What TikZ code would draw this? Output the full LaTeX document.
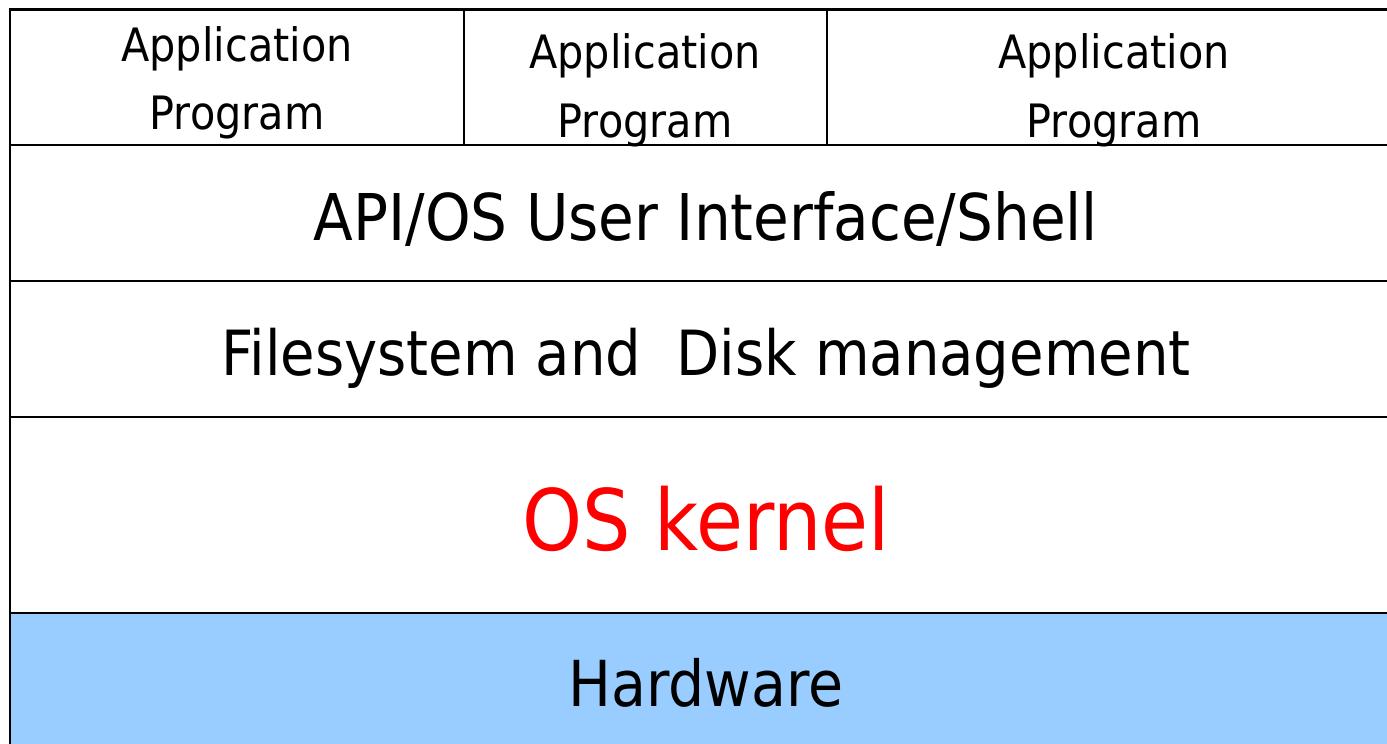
\documentclass[tikz,border=0pt]{standalone}
\usepackage{fontspec}
\setmainfont[FakeStretch=0.9]{DejaVu Sans}
\definecolor{hwblue}{HTML}{99CCFF}
\definecolor{kred}{HTML}{FF0000}
\begin{document}
\begin{tikzpicture}[x=1pt,y=-1pt,
  layer/.style={line width=2.4pt,draw=black},
  lbl/.style={anchor=base,inner sep=0pt,text=black}]
\useasboundingbox (0,0) rectangle (1387,744);
% hardware fill
\fill[hwblue] (10,613) rectangle (1387,744);
% texts
\node[lbl,font=\fontsize{46}{46}\selectfont] (a1) at (237,61) {Application};
\node[lbl,font=\fontsize{46}{46}\selectfont] (p1) at (237,129) {Program};
\node[lbl,font=\fontsize{46}{46}\selectfont] (a2) at (645,68) {Application};
\node[lbl,font=\fontsize{46}{46}\selectfont] (p2) at (645,137) {Program};
\node[lbl,font=\fontsize{46}{46}\selectfont] (a3) at (1114,68) {Application};
\node[lbl,font=\fontsize{46}{46}\selectfont] (p3) at (1114,137) {Program};
\node[lbl,font=\fontsize{64.5}{64.5}\selectfont] (api) at (706,240) {API/OS User Interface/Shell};
\node[lbl,font=\fontsize{62.3}{62.3}\selectfont] (fs) at (706,375) {Filesystem and\ \ Disk management};
\node[lbl,font=\fontsize{84.8}{84.8}\selectfont,text=kred] (kern) at (706,550) {OS kernel};
\node[lbl,font=\fontsize{63.4}{63.4}\selectfont] (hw) at (706,706) {Hardware};
% frame lines
\draw[layer] (1387,9.5) -- (10,9.5) -- (10,744);
\draw[layer] (10,145) -- (1387,145);
\draw[layer] (10,281) -- (1387,281);
\draw[layer] (10,417) -- (1387,417);
\draw[layer] (10,613) -- (1387,613);
\draw[layer] (464,9.5) -- (464,145);
\draw[layer] (827,9.5) -- (827,145);
\end{tikzpicture}
\end{document}
